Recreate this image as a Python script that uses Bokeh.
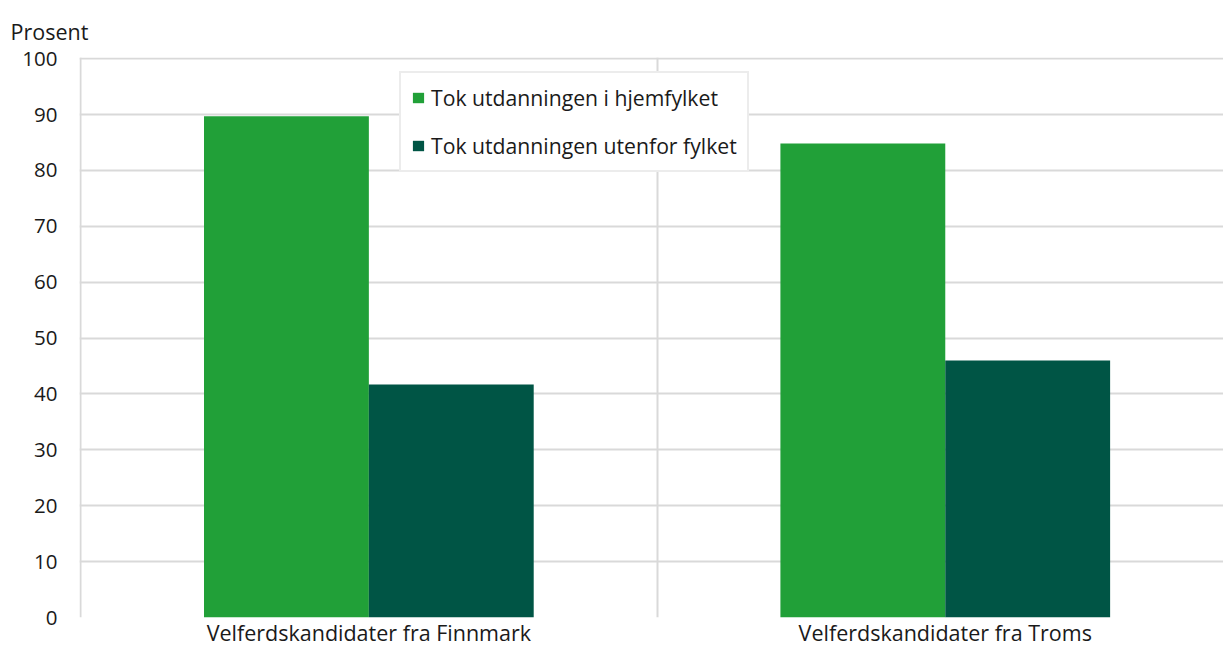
from bokeh.plotting import figure
from bokeh.models import (ColumnDataSource, Range1d, FixedTicker, Legend, LegendItem)
from bokeh.embed import file_html
from bokeh.resources import INLINE

categories = ["Velferdskandidater fra Finnmark", "Velferdskandidater fra Troms"]
series_names = ["Tok utdanningen i hjemfylket", "Tok utdanningen utenfor fylket"]
home_values = [89.7, 84.8]
outside_values = [41.7, 46.0]
y_ticks = [0, 10, 20, 30, 40, 50, 60, 70, 80, 90, 100]
colors = ["#21a038", "#005545"]

FONT = "Open Sans"
FS = "21.5px"
TXT = "#1a1a1a"
centers = [i + 0.5 for i in range(len(categories))]
bw = 0.286

p = figure(width=1223, height=650, output_backend="svg", toolbar_location=None,
           x_range=Range1d(-0.002, 1.9827), y_range=Range1d(0, 100.2),
           min_border_left=79, min_border_right=0, min_border_top=57, min_border_bottom=33)
p.outline_line_color = None
p.background_fill_color = "white"

p.title.text = "Prosent"
p.title.align = "left"
p.title.vertical_align = "top"
p.title.offset = -69
p.title.standoff = 19
p.title.text_font = FONT
p.title.text_font_size = FS
p.title.text_font_style = "normal"
p.title.text_color = TXT

src = ColumnDataSource(dict(
    xh=[c - bw / 2 for c in centers], xo=[c + bw / 2 for c in centers],
    home=home_values, outside=outside_values))
r1 = p.vbar(x="xh", top="home", width=bw, source=src, fill_color=colors[0], line_color=None)
r2 = p.vbar(x="xo", top="outside", width=bw, source=src, fill_color=colors[1], line_color=None)

p.xaxis.ticker = FixedTicker(ticks=centers)
p.xaxis.major_label_overrides = {c: lab for c, lab in zip(centers, categories)}
p.xaxis.axis_line_color = None
p.xaxis.major_tick_line_color = None
p.xaxis.major_tick_out = 0
p.xaxis.minor_tick_line_color = None
p.xaxis.minor_tick_out = 0
p.xaxis.major_label_text_font = FONT
p.xaxis.major_label_text_font_size = FS
p.xaxis.major_label_text_color = TXT
p.xaxis.major_label_standoff = 0

p.yaxis.ticker = FixedTicker(ticks=y_ticks)
p.yaxis.axis_line_color = None
p.yaxis.major_tick_line_color = None
p.yaxis.major_tick_out = 0
p.yaxis.minor_tick_line_color = None
p.yaxis.minor_tick_out = 0
p.yaxis.major_label_text_font = FONT
p.yaxis.major_label_text_font_size = "20.5px"
p.yaxis.major_label_text_color = TXT
p.yaxis.major_label_standoff = 22

p.ygrid.ticker = FixedTicker(ticks=y_ticks)
p.ygrid.grid_line_color = "#d9d9d9"
p.ygrid.grid_line_width = 2
p.xgrid.ticker = FixedTicker(ticks=[0, 1, 2])
p.xgrid.grid_line_color = "#d9d9d9"
p.xgrid.grid_line_width = 2

legend = Legend(items=[LegendItem(label=series_names[0], renderers=[r1]),
                       LegendItem(label=series_names[1], renderers=[r2])],
                location=(320, 445), orientation="vertical",
                label_text_font=FONT, label_text_font_size="21.2px", label_text_color=TXT,
                glyph_width=14, glyph_height=13, label_standoff=6, spacing=19,
                padding=10, margin=0,
                border_line_color="#d9d9d9", border_line_width=2,
                background_fill_color="white", background_fill_alpha=1)
p.add_layout(legend, "center")

open("out.html", "w").write(file_html(p, INLINE))
